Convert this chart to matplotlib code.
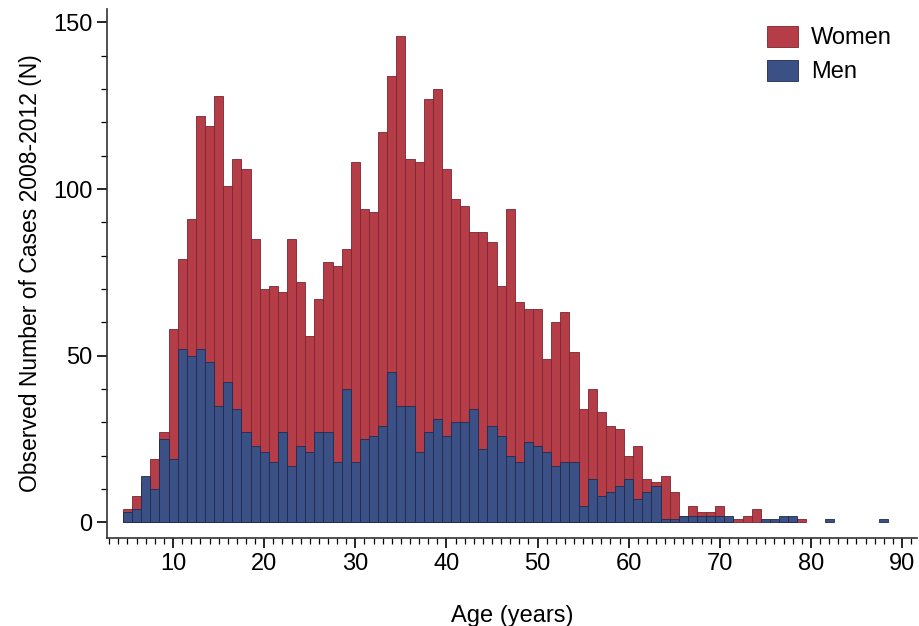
import numpy as np
import matplotlib.pyplot as plt
from matplotlib.ticker import MultipleLocator

plt.rcParams['font.family'] = ['Liberation Sans', 'DejaVu Sans']

# Data (cases per single year of age)
ages = np.arange(5, 89)
women = [4, 8, 12, 19, 27, 58, 79, 91, 122, 119,
         128, 101, 109, 106, 85, 70, 71, 69, 85, 72,
         56, 67, 78, 77, 82, 108, 94, 93, 117, 134,
         146, 109, 108, 127, 130, 106, 97, 95, 87, 87,
         84, 71, 94, 66, 64, 64, 49, 60, 63, 51,
         34, 40, 33, 29, 28, 20, 23, 13, 12, 14,
         9, 2, 5, 3, 3, 5, 1, 1, 2, 4,
         0, 0, 1, 1, 1, 0, 0, 0, 0, 0,
         0, 0, 0, 0]
men = [3, 4, 14, 10, 25, 19, 52, 50, 52, 48,
       35, 42, 34, 27, 23, 21, 18, 27, 17, 23,
       21, 27, 27, 18, 40, 18, 25, 26, 29, 45,
       35, 35, 21, 27, 31, 26, 30, 30, 34, 22,
       29, 26, 20, 18, 24, 23, 21, 17, 18, 18,
       5, 13, 8, 9, 11, 13, 7, 9, 11, 1,
       1, 2, 2, 2, 2, 2, 2, 0, 0, 0,
       1, 1, 2, 2, 0, 0, 0, 1, 0, 0,
       0, 0, 0, 1]

women = np.array(women)
men = np.array(men)

red = '#b53d48'
blue = '#3b5085'

fig = plt.figure(figsize=(9.2, 6.26), dpi=100)
ax = fig.add_axes([0.1163, 0.1406, 0.88, 0.845])

# women drawn first, men overlaid in front
w = women > 0
m = men > 0
ax.bar(ages[w], women[w], width=1.0, color=red, edgecolor='#7a2530', linewidth=0.6, label='Women')
ax.bar(ages[m], men[m], width=1.0, color=blue, edgecolor='#1e2a50', linewidth=0.6, label='Men')

ax.set_xlim(2.75, 91.6)
ax.set_ylim(-4.7, 154)

ax.set_xticks(range(10, 100, 10))
ax.xaxis.set_minor_locator(MultipleLocator(1))
ax.yaxis.set_major_locator(MultipleLocator(50))
ax.yaxis.set_minor_locator(MultipleLocator(10))

ax.tick_params(axis='both', which='major', length=7, width=1.2, labelsize=17, direction='out')
ax.tick_params(axis='both', which='minor', length=4, width=0.9, direction='out')

for s in ['top', 'right']:
    ax.spines[s].set_visible(False)
for s in ['left', 'bottom']:
    ax.spines[s].set_linewidth(1.2)
    ax.spines[s].set_color('#333333')

ax.set_xlabel('Age (years)', fontsize=17, labelpad=22)
ax.set_ylabel('Observed Number of Cases 2008-2012 (N)', fontsize=16.5, labelpad=8)

ax.legend(loc='upper right', frameon=False, fontsize=17, handlelength=1.3, handleheight=1.0,
          handletextpad=0.55, borderaxespad=0.3, labelspacing=0.45, bbox_to_anchor=(0.99, 1.0))

fig.savefig('out.png', dpi=100)
